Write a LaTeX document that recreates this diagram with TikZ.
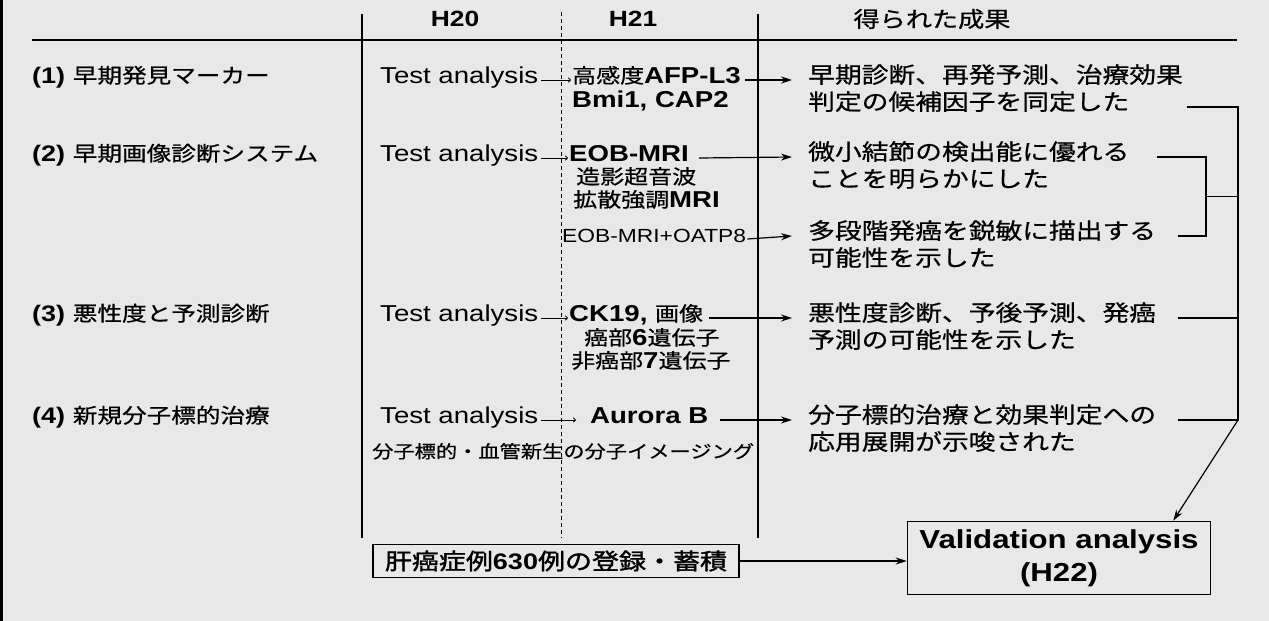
\documentclass[tikz,border=0pt]{standalone}
\usepackage{fontspec}
\setmainfont[FakeStretch=1.2]{Liberation Sans}
\newfontfamily\jp[FakeStretch=1.2,FakeBold=0.6]{Noto Sans CJK JP}
\newfontfamily\jpb[FakeStretch=1.2,FakeBold=1.6]{Noto Sans CJK JP}
\usetikzlibrary{arrows.meta,calc}
\definecolor{bgc}{RGB}{232,232,232}
\newcommand{\fs}[1]{\fontsize{#1}{#1}\selectfont}
\begin{document}
\begin{tikzpicture}[x=1pt,y=-1pt,
  font=\fs{23},
  tx/.style={anchor=west,inner sep=0pt,text height=0.8em,text depth=0.2em},
  lab/.style={tx},
  res/.style={tx,font=\fs{22.3}\jp},
  rule/.style={line width=1.8pt},
  arr/.style={line width=1.2pt,-{Stealth[length=11pt,width=7pt]}},
  sarr/.style={line width=0.8pt,-{To[length=3pt,width=5pt]}},
  brk/.style={line width=1.3pt},
  boxn/.style={draw,line width=1.4pt,inner xsep=12pt,inner ysep=6pt}]
\useasboundingbox (0,0) rectangle (1269,621);
\fill[bgc] (0,0) rectangle (1269,621);
\draw[line width=3pt] (1.5,0) -- (1.5,621);
% header
\node (h20) at (455,19) {\fs{22}\bfseries H20};
\node (h21) at (633,19) {\fs{22}\bfseries H21};
\node (hres) at (932,19) {\fs{21.8}\jp 得られた成果};
\draw[line width=2.2pt] (32,40) -- (1237,40);
\draw[rule] (362,14) -- (362,538);
\draw[line width=0.9pt,dash pattern=on 4pt off 3pt] (561,12) -- (561,538);
\draw[rule] (758,14) -- (758,538);
% row labels
\node[lab] (l1) at (32,80) {{\fs{22.5}\bfseries (1)} {\fs{20.5}\jp 早期発見マーカー}};
\node[lab] (l2) at (32,158) {{\fs{22.5}\bfseries (2)} {\fs{20.5}\jp 早期画像診断システム}};
\node[lab] (l3) at (32,318) {{\fs{22.5}\bfseries (3)} {\fs{20.5}\jp 悪性度と予測診断}};
\node[lab] (l4) at (32,420) {{\fs{22.5}\bfseries (4)} {\fs{20.5}\jp 新規分子標的治療}};
% H20
\node[tx] (t1) at (380,80) {Test analysis};
\node[tx] (t2) at (380,158) {Test analysis};
\node[tx] (t3) at (380,318) {Test analysis};
\node[tx] (t4) at (380,420) {Test analysis};
% H21
\node[tx] (a1) at (572,80) {{\fs{20}\jp 高感度}{\bfseries AFP-L3}};
\node[tx] (a1b) at (572,104) {\bfseries Bmi1, CAP2};
\node[tx] (a2) at (569,158) {\bfseries EOB-MRI};
\node[tx] (a2b) at (576,181) {\fs{20}\jp 造影超音波};
\node[tx] (a2c) at (573,204) {{\fs{20}\jp 拡散強調}{\bfseries MRI}};
\node[tx,font=\fs{19}] (a2d) at (562,239) {EOB-MRI+OATP8};
\node[tx] (a3) at (569,318) {{\bfseries CK19,} {\fs{20}\jp 画像}};
\node[tx] (a3b) at (584,342) {{\fs{20}\jp 癌部}{\bfseries 6}{\fs{20}\jp 遺伝子}};
\node[tx] (a3c) at (571,365) {{\fs{20}\jp 非癌部}{\bfseries 7}{\fs{20}\jp 遺伝子}};
\node[tx] (a4) at (590,420) {\bfseries Aurora B};
\node[tx,font=\fs{17.7}\jp] (a4b) at (372,455) {分子標的・血管新生の分子イメージング};
% results
\node[res] (r1a) at (808,80) {早期診断、再発予測、治療効果};
\node[res] (r1b) at (808,107) {判定の候補因子を同定した};
\node[res] (r2a) at (808,157) {微小結節の検出能に優れる};
\node[res] (r2b) at (808,184) {ことを明らかにした};
\node[res] (r2c) at (808,236) {多段階発癌を鋭敏に描出する};
\node[res] (r2d) at (808,263) {可能性を示した};
\node[res] (r3a) at (808,318) {悪性度診断、予後予測、発癌};
\node[res] (r3b) at (808,345) {予測の可能性を示した};
\node[res] (r4a) at (808,420) {分子標的治療と効果判定への};
\node[res] (r4b) at (808,447) {応用展開が示唆された};
% small arrows H20 -> H21
\draw[sarr] ([xshift=3pt]t1.east) -- ([xshift=-1pt]a1.west);
\draw[sarr] ([xshift=3pt]t2.east) -- ([xshift=-1pt]a2.west);
\draw[sarr] ([xshift=3pt]t3.east) -- ([xshift=-1pt]a3.west);
\draw[sarr] ([xshift=3pt]t4.east) -- ([xshift=-14pt]a4.west);
% result arrows
\draw[arr] ([xshift=4pt]a1.east) -- ([xshift=-16pt]r1a.west);
\draw[arr] ([xshift=10pt]a2.east) -- ([xshift=-16pt]r2a.west);
\draw[arr] ([xshift=1pt]a2d.east) -- ([xshift=-16pt]r2c.west);
\draw[arr] ([xshift=6pt]a3.east) -- ([xshift=-16pt]r3a.west);
\draw[arr] ([xshift=12pt]a4.east) -- ([xshift=-16pt]r4a.west);
% bottom boxes
\node[boxn] (reg) at (556,561) {{\fs{22.5}\jpb 肝癌症例}{\fs{22.5}\bfseries 630}{\fs{22.5}\jpb 例の登録・蓄積}};
\node[boxn,align=center,font=\fs{26}\bfseries,inner ysep=8pt] (val) at (1059,558) {Validation analysis\\[7pt](H22)};
\draw[arr] (reg.east) -- (reg.east -| val.west);
% brackets
\coordinate (X) at (1238,0);
\coordinate (I) at (1206,0);
\coordinate (S1) at (1187,0);
\coordinate (S2) at (1157,0);
\coordinate (S3) at (1178,0);
\draw[brk] (S1 |- r1b.east) -- (X |- r1b.east) -- (X |- r4a.east) -- (S3 |- r4a.east);
\draw[brk] (S3 |- r3a.east) -- (X |- r3a.east);
\draw[brk] (S2 |- r2a.east) -- (I |- r2a.east) -- (I |- r2c.east) -- (S3 |- r2c.east);
\coordinate (M) at ($(r2a.east)!0.5!(r2c.east)$);
\draw[brk] (I |- M) -- (X |- M);
\draw[arr] (X |- r4a.east) -- ([xshift=-38pt]val.north east);
\end{tikzpicture}
\end{document}
